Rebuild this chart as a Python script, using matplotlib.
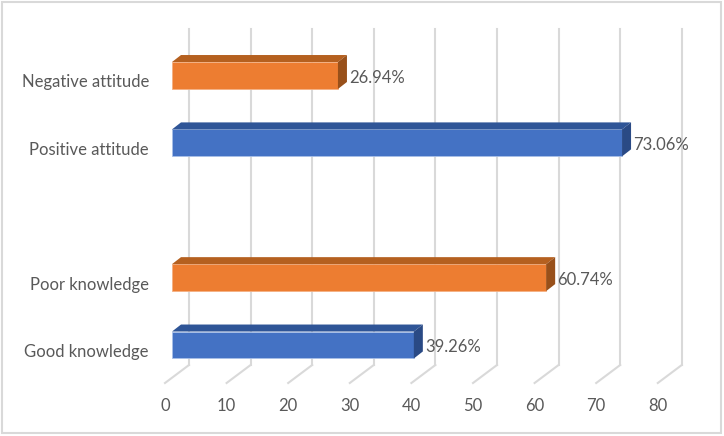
import numpy as np
import matplotlib
matplotlib.use("Agg")
from matplotlib import pyplot as plt
from matplotlib.patches import Polygon, Rectangle

# data (bottom to top)
categories = ["Good knowledge", "Poor knowledge", "Positive attitude", "Negative attitude"]
values = [39.26, 60.74, 73.06, 26.94]
positions = [0, 1, 3, 4]
series = ["blue", "orange", "blue", "orange"]
x_ticks = [0, 10, 20, 30, 40, 50, 60, 70, 80]

plt.rcParams['font.family'] = ['Lato', 'DejaVu Sans']

W, H = 724, 436
fig = plt.figure(figsize=(W / 100, H / 100), dpi=100)

# pixel geometry of the 3D look
S = 6.16            # px per x unit
X0 = 172            # px where front face of bars starts
SY = 67.375         # px per category slot
L, R = 160, 700     # axes left/right in px
B, T = 53, 407      # axes bottom/top in px (from bottom)
ax = fig.add_axes([L / W, B / H, (R - L) / W, (T - B) / H])
ax.set_xlim((L - X0) / S, (R - X0) / S)
y_lo = (B - 91) / SY
y_hi = (T - 91) / SY
ax.set_ylim(y_lo, y_hi)

grid_c = "#d9d9d9"
back_dx = 17 / S
front_dx = -7 / S
floor_y = (71 - 91) / SY
for v in x_ticks:
    ax.plot([v + back_dx, v + back_dx], [floor_y, y_hi], color=grid_c, lw=1.5, clip_on=False, zorder=1)
    ax.plot([v + back_dx, v + front_dx], [floor_y, y_lo], color=grid_c, lw=1.5, clip_on=False, zorder=1)

colors = {
    "blue": ("#4472C4", "#2F5597", "#2A4A85"),
    "orange": ("#ED7D31", "#B5601F", "#98501A"),
}
h = 0.4
dx = 9 / S
dy = 7 / SY
for y, v, s in zip(positions, values, series):
    front, top, side = colors[s]
    ax.barh(y, v, height=h, color=front, edgecolor="#a9c0e8" if s == "blue" else "#f4b183",
            linewidth=0.6, zorder=3)
    ax.add_patch(Polygon([(0, y + h / 2), (v, y + h / 2), (v + dx, y + h / 2 + dy), (dx, y + h / 2 + dy)],
                         closed=True, facecolor=top, edgecolor="none", zorder=3))
    ax.add_patch(Polygon([(v, y - h / 2), (v, y + h / 2), (v + dx, y + h / 2 + dy), (v + dx, y - h / 2 + dy)],
                         closed=True, facecolor=side, edgecolor="none", zorder=3))
    ax.annotate(f"{v:.2f}%", (v + dx, y), xytext=(1.5, -1.5), textcoords="offset points",
                ha="left", va="center", fontsize=12, color="#595959", zorder=4)

ax.set_yticks([p - 5.5 / SY for p in positions])
ax.set_yticklabels(categories)
ax.set_xticks([v + front_dx for v in x_ticks])
ax.set_xticklabels([str(v) for v in x_ticks])
ax.tick_params(axis="y", length=0, pad=8, labelsize=12, labelcolor="#595959")
ax.tick_params(axis="x", length=0, pad=11, labelsize=12, labelcolor="#595959")
for sp in ax.spines.values():
    sp.set_visible(False)
ax.patch.set_alpha(0)

fig.patches.append(Rectangle((2 / W, 3 / H), 719 / W, 431 / H, transform=fig.transFigure,
                             fill=False, edgecolor="#d9d9d9", linewidth=1.5))

fig.savefig("out.png", dpi=100)
